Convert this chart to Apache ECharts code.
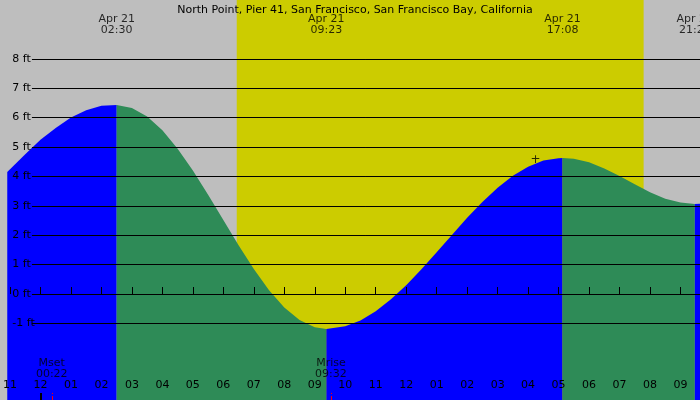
<!DOCTYPE html>
<html><head><meta charset="utf-8">
<script src="https://cdn.jsdelivr.net/npm/echarts@6/dist/echarts.min.js"></script>
<style>html,body{margin:0;padding:0;background:#bebebe}#c{width:700px;height:400px}</style>
</head><body><div id="c"></div>
<script>
const title = 'North Point, Pier 41, San Francisco, San Francisco Bay, California';
const hours = [-1.09,-0.5,0,0.5,1,1.5,2,2.5,3,3.5,4,4.5,5,5.5,6,6.5,7,7.5,8,8.5,9,9.38,10,10.5,11,11.5,12,12.5,13,13.5,14,14.5,15,15.5,16,16.5,17,17.13,17.5,18,18.5,19,19.5,20,20.5,21,21.47,21.64];
const heights = [4.15,4.75,5.25,5.65,6.0,6.25,6.4,6.43,6.33,6.04,5.57,4.94,4.20,3.38,2.52,1.66,0.85,0.13,-0.46,-0.88,-1.13,-1.19,-1.10,-0.90,-0.59,-0.18,0.30,0.84,1.42,2.01,2.59,3.13,3.61,4.02,4.33,4.54,4.62,4.63,4.60,4.48,4.27,4.01,3.73,3.46,3.24,3.11,3.06,3.07];
const extremaTimes = [2.5, 9.38, 17.13, 21.47];
const extremaLabels = ['Apr 21\n02:30','Apr 21\n09:23','Apr 21\n17:08','Apr 21\n21:28'];
const moonTimes = [0.37, 9.53];
const moonLabels = ['Mset\n00:22','Mrise\n09:32'];
const sunrise = 6.44, sunset = 19.79;
const ftLevels = [-1,0,1,2,3,4,5,6,7,8];
const hourTicks = [-1,0,1,2,3,4,5,6,7,8,9,10,11,12,13,14,15,16,17,18,19,20,21];

const XMIN=-1.088, XMAX=21.64, YMIN=-3.605, YMAX=10.0;
const FONT='DejaVu Sans';
const pts = hours.map((h,i)=>[h,heights[i]]);
function seg(a,b){return pts.filter(p=>p[0]>=a-1e-9&&p[0]<=b+1e-9);}
const segs=[[XMIN-1,2.5,'#0000ff'],[2.5,9.38,'#2e8b57'],[9.38,17.13,'#0000ff'],[17.13,21.47,'#2e8b57'],[21.47,XMAX+1,'#0000ff']];
function hl(h){let v=((h%12)+12)%12; if(v===0)v=12; return String(v).padStart(2,'0');}

const series=[
 {type:'line',data:[],z:1,silent:true,
  markArea:{silent:true,itemStyle:{color:'#cccc00'},data:[[{xAxis:sunrise,yAxis:YMIN},{xAxis:sunset,yAxis:YMAX}]]},
  markLine:{silent:true,symbol:'none',label:{show:false},lineStyle:{color:'#000',width:1,type:'solid'},
   data:ftLevels.map(v=>[{coord:[-0.28,v]},{coord:[XMAX,v]}])}}
];
segs.forEach(s=>series.push({type:'line',data:seg(s[0],s[1]),symbol:'none',smooth:false,z:3,
  lineStyle:{width:0},areaStyle:{color:s[2],opacity:1,origin:'start'},silent:true}));
series.push({type:'line',data:[],z:6,markLine:{silent:true,symbol:'none',label:{show:false},
  data:[[{coord:[0,YMIN],lineStyle:{color:'#000',width:2}},{coord:[0,YMIN+0.24]}]].concat(
   moonTimes.map(t=>[{coord:[t,YMIN],lineStyle:{color:'#ff0000',width:1}},{coord:[t,YMIN+0.24]}]))}});
series.push({type:'scatter',symbolSize:0,z:7,data:extremaTimes.map((t,i)=>({value:[t,9.15],label:{formatter:extremaLabels[i]}})),
  label:{show:true,position:'inside',color:'#000',fontFamily:FONT,fontSize:11,lineHeight:11,align:'center'}});
series.push({type:'scatter',symbolSize:0,z:7,data:moonTimes.map((t,i)=>({value:[t,-2.55],label:{formatter:moonLabels[i]}})),
  label:{show:true,position:'inside',color:'#000',fontFamily:FONT,fontSize:11,lineHeight:11,align:'center'}});
series.push({type:'scatter',symbolSize:0,z:7,data:[[16.24,4.55]],label:{show:true,formatter:'+',position:'inside',color:'#000',fontSize:12,fontFamily:FONT}});

const chart=echarts.init(document.getElementById('c'),null,{renderer:'canvas'});
chart.setOption({
 backgroundColor:'#bebebe',animation:false,
 title:{text:title,left:350,textAlign:'center',top:0,textStyle:{fontFamily:FONT,fontSize:11,fontWeight:'normal',color:'#000'}},
 grid:{left:0,right:0,top:0,bottom:0},
 xAxis:{type:'value',min:XMIN,max:XMAX,axisLine:{show:false},splitLine:{show:false},
  axisTick:{show:true,inside:true,length:7,lineStyle:{color:'#000'},customValues:hourTicks},
  axisLabel:{show:true,inside:true,margin:9,customValues:hourTicks,formatter:v=>hl(Math.round(v)),color:'#000',fontFamily:FONT,fontSize:11},z:8},
 yAxis:{type:'value',min:YMIN,max:YMAX,axisLine:{show:false},axisTick:{show:false},splitLine:{show:false},
  axisLabel:{show:true,inside:true,margin:5,customValues:ftLevels,formatter:v=>Math.round(v)+' ft',color:'#000',fontFamily:FONT,fontSize:11},z:8},
 series
});
</script></body></html>
